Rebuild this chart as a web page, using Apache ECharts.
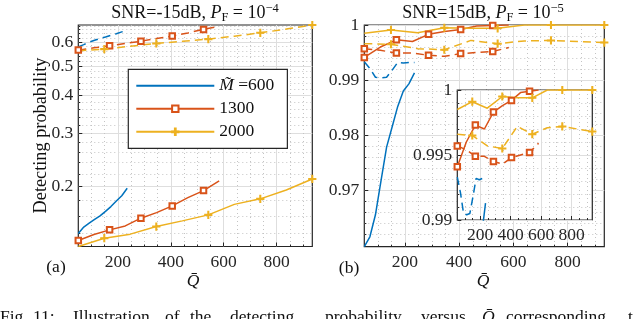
<!DOCTYPE html>
<html><head><meta charset="utf-8">
<script src="https://cdn.jsdelivr.net/npm/echarts@6/dist/echarts.min.js"></script>
<style>html,body{margin:0;padding:0;background:#fff}#c{width:640px;height:319px}</style>
</head><body><div id="c"></div>
<script>
// ---------- data ----------
const qBlue   = [50, 70.6, 91.1, 111.7, 132.2, 152.8, 173.3, 193.9, 214.4, 235];
const qOrange = [50, 109.2, 168.4, 227.6, 286.8, 346, 405.2, 464.4, 523.6, 582.8];
const qYellow = [50, 148.3, 246.7, 345, 443.3, 541.7, 640, 738.3, 836.7, 935];

// (a) SNR = -15 dB, PF = 1e-4
const aBlueSolid    = [0.140, 0.147, 0.1515, 0.1558, 0.160, 0.1657, 0.1718, 0.1793, 0.1866, 0.1976];
const aBlueDashed   = [0.579, 0.589, 0.600, 0.609, 0.617, 0.624, 0.632, 0.640, 0.649, 0.658];
const aOrangeSolid  = [0.1328, 0.1389, 0.1439, 0.1483, 0.1573, 0.1641, 0.1727, 0.1839, 0.1940, 0.2088];
const aOrangeDashed = [0.565, 0.575, 0.5837, 0.594, 0.6049, 0.617, 0.6285, 0.644, 0.6614, 0.678];
const aYellowSolid  = [0.1268, 0.1351, 0.1393, 0.1476, 0.1541, 0.1613, 0.1747, 0.1822, 0.1950, 0.2120];
const aYellowDashed = [0.562, 0.5693, 0.582, 0.5944, 0.604, 0.6143, 0.628, 0.6444, 0.663, 0.684];

// (b) SNR = 15 dB, PF = 1e-5
const bBlueSolid    = [0.9597, 0.9615, 0.9655, 0.9717, 0.9778, 0.9815, 0.9852, 0.9880, 0.9893, 0.9913];
const bBlueDashed   = [0.9933, 0.9921, 0.9905, 0.9904, 0.9905, 0.9918, 0.9932, 0.9931, 0.9932, 0.9932];
const bOrangeSolid  = [0.9941, 0.9960, 0.9973, 0.9970, 0.9983, 0.9988, 0.9992, 0.9998, 0.9999, 1.0];
const bOrangeDashed = [0.9957, 0.9954, 0.9949, 0.9949, 0.9945, 0.9943, 0.9948, 0.9950, 0.9952, 0.9959];
const bYellowSolid  = [0.9985, 0.9991, 0.9986, 0.9995, 0.9994, 0.9994, 1.0, 1.0, 1.0, 1.0];
const bYellowDashed = [0.9966, 0.9965, 0.9957, 0.9955, 0.9972, 0.9966, 0.9971, 0.9972, 0.9970, 0.9968];

// ticks
const xTicks = [200, 400, 600, 800];
const xMinor = [100, 150, 250, 300, 350, 450, 500, 550, 650, 700, 750, 850, 900];
const aYTicks = [0.2, 0.3, 0.4, 0.5, 0.6];
const aYMinor = [0.14, 0.16, 0.18, 0.22, 0.24, 0.26, 0.28, 0.32, 0.34, 0.36, 0.38, 0.42, 0.44, 0.46, 0.48, 0.52, 0.54, 0.56, 0.58, 0.62, 0.64, 0.66, 0.68];
const bYTicks = [0.97, 0.98, 0.99, 1];
const bYMinor = [0.962, 0.964, 0.966, 0.968, 0.972, 0.974, 0.976, 0.978, 0.982, 0.984, 0.986, 0.988, 0.992, 0.994, 0.996, 0.998];
const cYTicks = [0.99, 0.995, 1];
const cYMinor = [0.991, 0.992, 0.993, 0.994, 0.996, 0.997, 0.998, 0.999];
const legendNames = ['600', '1300', '2000'];

// ---------- styles ----------
const FONT = 'Liberation Serif';
const C_BLUE = '#0072BD', C_OR = '#D95319', C_YE = '#EDB120';
const AX = '#262626';
const PLUS = 'path://M4.4,0L5.6,0L5.6,4.4L10,4.4L10,5.6L5.6,5.6L5.6,10L4.4,10L4.4,5.6L0,5.6L0,4.4L4.4,4.4Z';

function mainAxis(type, grid, min, max, ticks, fmt, pos, extra) {
  return Object.assign({
    type: type, gridIndex: grid, min: min, max: max, position: pos,
    axisLine: {show: false},
    axisTick: {show: true, inside: true, length: 4, customValues: ticks, lineStyle: {color: AX, width: 1}},
    axisLabel: {show: true, customValues: ticks, formatter: fmt, color: AX, fontFamily: FONT, fontSize: 17.5, margin: 5},
    splitLine: {show: true, lineStyle: {color: '#dedede', width: 1}},
    minorTick: {show: false}, minorSplitLine: {show: false}
  }, extra || {});
}
function minorAxis(type, grid, min, max, ticks, pos) {
  return {
    type: type, gridIndex: grid, min: min, max: max, position: pos,
    axisLine: {show: false},
    axisTick: {show: true, inside: true, length: 2, customValues: ticks, lineStyle: {color: AX, width: 1}},
    axisLabel: {show: false, customValues: ticks},
    splitLine: {show: true, lineStyle: {color: '#c4c4c4', width: 1, type: [1, 3]}}
  };
}
const fx = v => String(v);
const fLog = v => String(Math.round(v * 10) / 10);
const fB = v => (Math.abs(v - 1) < 1e-9 ? '1' : v.toFixed(2));
const fC = v => (Math.abs(v - 1) < 1e-9 ? '1' : (Math.abs(v - 0.995) < 1e-9 ? '0.995' : v.toFixed(2)));

function ser(name, xs, ys, color, dashed, sym, off, xi, yi, z) {
  return {
    type: 'line', name: name, xAxisIndex: xi, yAxisIndex: yi, z: z || 2,
    data: xs.map((x, i) => {
      const it = {value: [x, ys[i]]};
      if (!sym || i % 2 !== off) it.symbol = 'none';
      return it;
    }),
    symbol: sym || 'none', symbolSize: sym === PLUS ? 7 : 5.5, showSymbol: true, showAllSymbol: true,
    clip: true, animation: false, silent: true,
    lineStyle: {color: color, width: 1.5, type: dashed ? [8, 5] : 'solid'},
    itemStyle: {color: color, borderColor: color, borderWidth: 1.2}
  };
}

const series = [];
// (a)
series.push(ser('600', qBlue, aBlueSolid, C_BLUE, false, null, 0, 0, 0));
series.push(ser('1300', qOrange, aOrangeSolid, C_OR, false, 'emptyRect', 0, 0, 0));
series.push(ser('2000', qYellow, aYellowSolid, C_YE, false, PLUS, 1, 0, 0));
series.push(ser('a600d', qBlue, aBlueDashed, C_BLUE, true, null, 0, 0, 0));
series.push(ser('a1300d', qOrange, aOrangeDashed, C_OR, true, 'emptyRect', 0, 0, 0));
series.push(ser('a2000d', qYellow, aYellowDashed, C_YE, true, PLUS, 1, 0, 0));
// (b) main
series.push(ser('b600', qBlue, bBlueSolid, C_BLUE, false, null, 0, 2, 2));
series.push(ser('b1300', qOrange, bOrangeSolid, C_OR, false, 'emptyRect', 0, 2, 2));
series.push(ser('b2000', qYellow, bYellowSolid, C_YE, false, PLUS, 1, 2, 2));
series.push(ser('b600d', qBlue, bBlueDashed, C_BLUE, true, null, 0, 2, 2));
series.push(ser('b1300d', qOrange, bOrangeDashed, C_OR, true, 'emptyRect', 0, 2, 2));
series.push(ser('b2000d', qYellow, bYellowDashed, C_YE, true, PLUS, 1, 2, 2));
// (b) inset
series.push(ser('c600', qBlue, bBlueSolid, C_BLUE, false, null, 0, 4, 4, 8));
series.push(ser('c1300', qOrange, bOrangeSolid, C_OR, false, 'emptyRect', 0, 4, 4, 8));
series.push(ser('c2000', qYellow, bYellowSolid, C_YE, false, PLUS, 1, 4, 4, 8));
series.push(ser('c600d', qBlue, bBlueDashed, C_BLUE, true, null, 0, 4, 4, 8));
series.push(ser('c1300d', qOrange, bOrangeDashed, C_OR, true, 'emptyRect', 0, 4, 4, 8));
series.push(ser('c2000d', qYellow, bYellowDashed, C_YE, true, PLUS, 1, 4, 4, 8));

const gridStyle = {show: true, borderColor: AX, borderWidth: 1.2, backgroundColor: '#fff', containLabel: false};
const insetZ = {z: 7};

function t(x, y, text, size, extra) {
  return {type: 'text', x: x, y: y, silent: true, z: 20,
    style: Object.assign({text: text, font: size + 'px "' + FONT + '"', fill: '#111', align: 'center', verticalAlign: 'middle'}, extra || {})};
}
const rich = {
  n: {fontFamily: FONT, fontSize: 18, lineHeight: 22, fill: '#111'},
  i: {fontFamily: FONT, fontSize: 18, fontStyle: 'italic', lineHeight: 22, fill: '#111'},
  s: {fontFamily: FONT, fontSize: 12.5, lineHeight: 12, verticalAlign: 'bottom', fill: '#111'},
  p: {fontFamily: FONT, fontSize: 12.5, lineHeight: 12, verticalAlign: 'top', fill: '#111'}
};
function title(x, y, snr, exp) {
  return {type: 'text', x: x, y: y, silent: true, z: 20,
    style: {text: '{n|SNR=' + snr + 'dB, }{i|P}{s|F}{n| = 10}{p|' + exp + '}', rich: rich, align: 'center', verticalAlign: 'middle'}};
}
const capWords = [['Fig.', 0], ['11:', 33], ['Illustration', 73], ['of', 165], ['the', 190], ['detecting', 230],
  ['probability', 325], ['versus', 421], ['Q\u0304', 482], ['corresponding', 506], ['t', 628]];
const graphics = [
  title(195, 13, '-15', '\u22124'),
  title(483, 13, '15', '\u22125'),
  {type: 'text', x: 41, y: 135.5, rotation: Math.PI / 2, silent: true, z: 20,
    style: {text: 'Detecting probability', font: '18.3px "' + FONT + '"', fill: '#111', align: 'center', verticalAlign: 'middle'}},
  t(56, 267, '(a)', 17.5), t(349, 268, '(b)', 17.5),
  t(193, 281, 'Q\u0304', 17.5, {font: 'italic 17.5px "' + FONT + '"'}),
  t(483, 281, 'Q\u0304', 17.5, {font: 'italic 17.5px "' + FONT + '"'})
];
capWords.forEach(w => {
  const it = t(w[1], 317.5, w[0], 17.5, {align: 'left'});
  if (w[0] === 'Q\u0304') it.style.font = 'italic 17.5px "' + FONT + '"';
  graphics.push(it);
});

const option = {
  animation: false,
  backgroundColor: '#fff',
  grid: [
    Object.assign({left: 78.3, top: 25, width: 234, height: 221.5}, gridStyle),
    Object.assign({left: 364.3, top: 25, width: 240, height: 221.7}, gridStyle),
    Object.assign({left: 457.3, top: 90, width: 135, height: 130}, gridStyle, insetZ)
  ],
  xAxis: [
    mainAxis('value', 0, 50, 935, xTicks, fx, 'bottom', {axisLabel: {customValues: xTicks, color: AX, fontFamily: FONT, fontSize: 17.5, margin: 7}}),
    minorAxis('value', 0, 50, 935, xMinor, 'bottom'),
    mainAxis('value', 1, 50, 935, xTicks, fx, 'bottom', {axisLabel: {customValues: xTicks, color: AX, fontFamily: FONT, fontSize: 17.5, margin: 7}}),
    minorAxis('value', 1, 50, 935, xMinor, 'bottom'),
    Object.assign(mainAxis('value', 2, 50, 935, xTicks, fx, 'bottom', {axisLabel: {customValues: xTicks, color: AX, fontFamily: FONT, fontSize: 17.5, margin: 6}}), insetZ),
    Object.assign(minorAxis('value', 2, 50, 935, xMinor, 'bottom'), insetZ)
  ],
  yAxis: [
    mainAxis('log', 0, 0.1268, 0.684, aYTicks, fLog, 'left', {logBase: 10}),
    Object.assign(minorAxis('log', 0, 0.1268, 0.684, aYMinor, 'left'), {logBase: 10}),
    mainAxis('value', 1, 0.9597, 1, bYTicks, fB, 'left'),
    minorAxis('value', 1, 0.9597, 1, bYMinor, 'left'),
    Object.assign(mainAxis('value', 2, 0.99, 1, cYTicks, fC, 'left'), insetZ),
    Object.assign(minorAxis('value', 2, 0.99, 1, cYMinor, 'left'), insetZ)
  ],
  legend: {
    show: true, orient: 'vertical', left: 128.3, top: 69.3,
    data: [{name: legendNames[0], itemStyle: {opacity: 0}}, legendNames[1], legendNames[2]],
    itemWidth: 78, itemHeight: 8, itemGap: 4, padding: [7, 13, 7, 7],
    borderColor: AX, borderWidth: 1.2, backgroundColor: '#fff', borderRadius: 0,
    selectedMode: false, z: 10,
    textStyle: {fontFamily: FONT, fontSize: 17.5, color: '#111', lineHeight: 19,
      rich: {i: {fontFamily: FONT, fontSize: 17.5, fontStyle: 'italic', color: '#111', lineHeight: 19}, n: {fontFamily: FONT, fontSize: 17.5, color: '#111', lineHeight: 19}}},
    formatter: n => (n === '600' ? '{i|M\u0303}{n| =600}' : n)
  },
  graphic: graphics,
  series: series
};
const chart = echarts.init(document.getElementById('c'), null, {renderer: 'canvas'});
chart.setOption(option);
</script></body></html>
